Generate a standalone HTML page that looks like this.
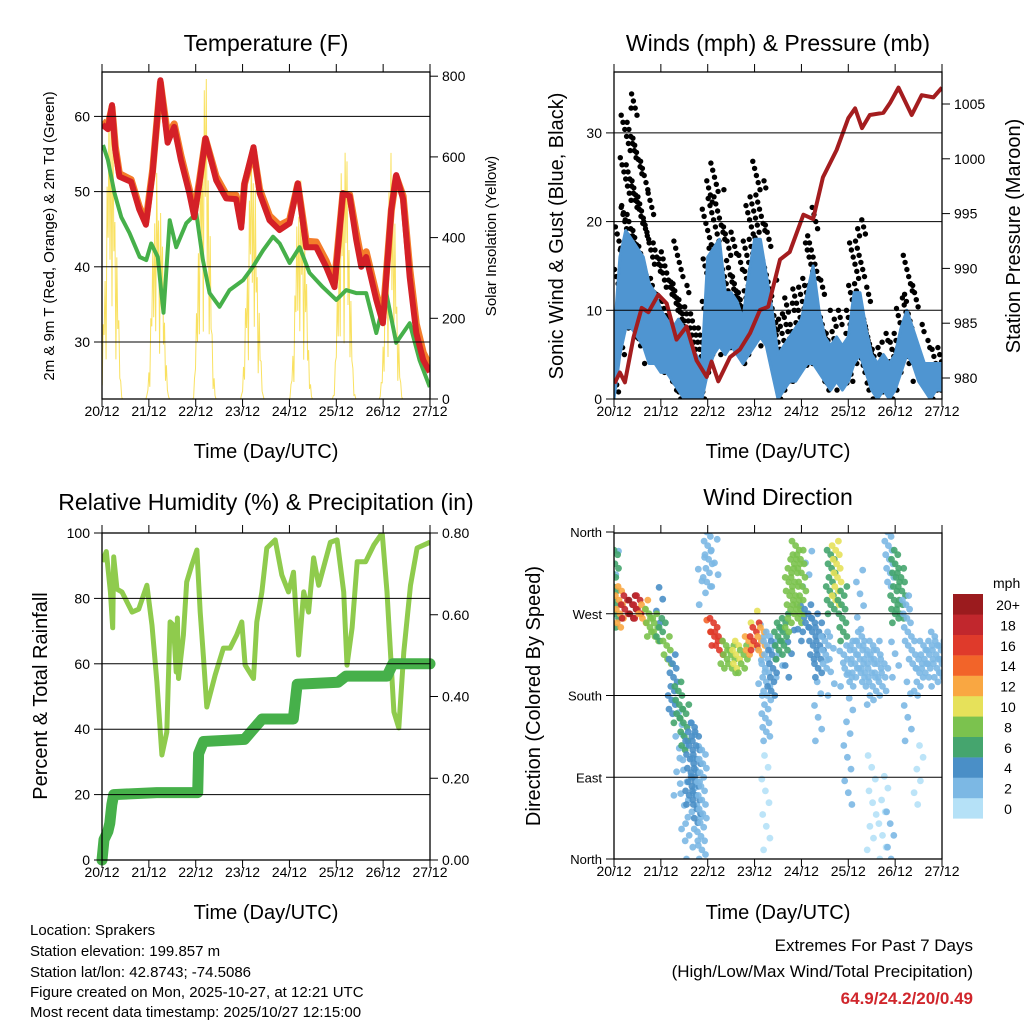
<!DOCTYPE html>
<html><head><meta charset="utf-8">
<style>
html,body{margin:0;padding:0;background:#fff;}
svg{display:block;font-family:"Liberation Sans",Arial,sans-serif;}
</style></head>
<body>
<svg id="chart" width="1024" height="1024" viewBox="0 0 1024 1024" xmlns="http://www.w3.org/2000/svg">
<defs>
<clipPath id="c1"><rect x="102" y="72" width="328" height="327"/></clipPath>
<clipPath id="c2"><rect x="614" y="72" width="328" height="327"/></clipPath>
<clipPath id="c3"><rect x="102" y="533" width="328" height="327"/></clipPath>
<clipPath id="c4"><rect x="614" y="533" width="328" height="326"/></clipPath>
</defs>
<g id="p1"></g>
<g id="p2"></g>
<g id="p3"></g>
<g id="p4"></g>

<text x="266" y="51" font-size="23" text-anchor="middle">Temperature (F)</text>
<text x="778" y="51" font-size="23" text-anchor="middle">Winds (mph) &amp; Pressure (mb)</text>
<text x="266" y="510" font-size="23" text-anchor="middle">Relative Humidity (%) &amp; Precipitation (in)</text>
<text x="778" y="505" font-size="23" text-anchor="middle">Wind Direction</text>

<text x="266" y="458" font-size="20" text-anchor="middle">Time (Day/UTC)</text>
<text x="778" y="458" font-size="20" text-anchor="middle">Time (Day/UTC)</text>
<text x="266" y="919" font-size="20" text-anchor="middle">Time (Day/UTC)</text>
<text x="778" y="919" font-size="20" text-anchor="middle">Time (Day/UTC)</text>

<text transform="translate(54,236) rotate(-90)" font-size="15" text-anchor="middle">2m &amp; 9m T (Red, Orange) &amp; 2m Td (Green)</text>
<text transform="translate(496,236) rotate(-90)" font-size="15" text-anchor="middle">Solar Insolation (Yellow)</text>
<text transform="translate(563,236) rotate(-90)" font-size="20" text-anchor="middle">Sonic Wind &amp; Gust (Blue, Black)</text>
<text transform="translate(1020,236) rotate(-90)" font-size="20" text-anchor="middle">Station Pressure (Maroon)</text>
<text transform="translate(47,696) rotate(-90)" font-size="20" text-anchor="middle">Percent &amp; Total Rainfall</text>
<text transform="translate(540,696) rotate(-90)" font-size="20" text-anchor="middle">Direction (Colored By Speed)</text>

<g font-size="15">
<text x="30" y="935">Location: Sprakers</text>
<text x="30" y="956">Station elevation: 199.857 m</text>
<text x="30" y="977">Station lat/lon: 42.8743; -74.5086</text>
<text x="30" y="997">Figure created on Mon, 2025-10-27, at 12:21 UTC</text>
<text x="30" y="1017">Most recent data timestamp: 2025/10/27 12:15:00</text>
</g>
<g text-anchor="end">
<text x="973" y="951" font-size="17">Extremes For Past 7 Days</text>
<text x="973" y="977" font-size="17">(High/Low/Max Wind/Total Precipitation)</text>
<text x="973" y="1004" font-size="17" font-weight="bold" fill="#d0262c">64.9/24.2/20/0.49</text>
</g>
<g id="cbar"></g>
</svg>
<script>
// ---------- DATA ----------
const dayLabels = ["20/12","21/12","22/12","23/12","24/12","25/12","26/12","27/12"];
// temperature (F), hours from start
const tempHours = [0.2,3,5.1,6.8,8.9,14.9,19.1,22.5,25.9,29.9,33.6,37,40.4,44.7,47.3,49.9,53,58.5,63.6,68.7,71.3,73,77.6,80.7,85.8,90.9,96.1,100.3,104.6,109.7,114.8,119.1,123.4,126.8,130.2,132.8,135.3,140.5,143.9,148.2,150.7,154.2,157.6,161,164.5,167.9];
const temp2m = [58.9,58.3,61.5,55.5,52,51.3,47.6,45.6,52.5,64.8,56.5,58.6,54.2,49.8,46.6,51.1,57.1,51.5,49.1,49,45.2,51.1,55.9,49.8,46.2,44.9,45.8,51.1,42.6,42.6,40,37.3,49.8,49.4,43.6,40,41.3,35.6,32.5,47.6,52.2,49,38.6,31.2,27.6,26];
const temp9m = [59.3,58.8,61.2,56,52.4,51.6,48,46,52.8,64.5,57.5,59,54.8,50.3,47.2,51.4,57,52,49.6,49.5,45.8,51,55.5,50.3,46.8,45.5,46.2,51,43.4,43.3,40.8,38,49.7,49.6,44.6,41,42,36.4,33.3,47.5,52,49.4,39.8,32.4,28.6,26.8];
const dewHours = [0.5,3,6.4,9.9,14.1,19.3,22.7,25.2,28.6,30.4,31.5,34.7,38,43.2,48.3,51.7,55.1,60.2,65.3,72.2,77.3,82.5,87.6,91,96.1,101.2,106.3,113.1,120,125.1,130.2,135.3,140.5,145.6,150.7,157.6,162.6,167.9];
const dewPoint = [56.2,54.2,49.8,46.6,44.5,41.3,40.9,43.1,41.3,36.5,33.9,46.2,42.6,45.8,47.1,40.9,36.5,34.7,36.9,38.2,40,42.2,44,43.1,40.5,42.6,39.2,37.3,35.6,36.9,36.5,36.5,31.2,36.5,29.9,32.5,27.6,24];
const solarPeakHour = [4.6,28.5,52.4,77,101.8,124,148];
const solarPeak = [780,600,850,640,570,690,610];
const solarPattern = [1,0.45,0.85,0.3,0.95,0.55,0.75,0.2,0.9,0.6];
// winds (mph) every 3 h
const windHours = [0,3,6,9,12,15,18,21,24,27,30,33,36,39,42,45,48,51,54,57,60,63,66,69,72,75,78,81,84,87,90,93,96,99,102,105,108,111,114,117,120,123,126,129,132,135,138,141,144,147,150,153,156,159,162,165,168];
const windLo = [0,5,8,8,7,6,4,4,3,3,2,1,0,0,0,0,3,5,6,5,6,5,4,5,6,7,6,3,0,1,2,2,3,4,4,3,2,1,2,1,2,4,5,3,1,0,1,0,1,3,5,4,2,1,0,1,1];
const windHi = [7,16,19,18,17,16,13,12,10,9,8,9,8,6,5,4,16,17,18,12,12,11,9,14,18,18,14,10,5,6,7,8,9,12,15,10,7,6,7,6,7,12,12,8,5,4,5,4,5,8,10,8,6,4,4,4,4];
const gustHi = [9,22,33,35,30,27,24,18,16,17,14,18,13,11,10,8,25,27,24,20,19,17,15,22,27,25,20,14,10,12,11,13,13,18,22,14,10,9,10,8,10,20,21,13,8,7,8,7,8,12,17,13,9,7,6,6,5];
// pressure (mb)
const presHours = [0.2,3,5.6,10,14.2,17.6,22.7,27,32,37.2,42.3,47.5,50,53.4,59.4,64.5,69.7,74.8,79,85,90,97,102,107,114,120,123.5,127,131,138,141.4,145.7,152.5,157.6,163.6,168];
const pressure = [979.5,980.5,979.6,983.7,986.4,986,987.6,986.8,983.5,984.7,981.6,980.1,981.5,979.7,981.9,982.6,984.1,986.2,986.5,990.8,991.5,994.9,994.5,998.3,1000.8,1003.7,1004.6,1002.8,1004,1004.2,1005.1,1006.5,1004,1005.8,1005.6,1006.5];
// relative humidity (%)
const rhHours = [0,2.2,4.3,5.5,6,7.7,10.2,15.4,18.8,23,25.6,28.1,30.7,33.2,34.9,36.6,38,38.6,39.2,41.7,43.4,46,48.6,50.3,52,53.7,58,62.2,65.6,69,71.6,73.3,77.6,79.3,81.9,84.4,88.7,92.1,95.5,98.1,100.7,103.3,105.8,108.4,111,117,120.4,123.8,125.5,128.1,130.7,135,139.2,143.5,146,149.5,152,154.6,158,161.4,168];
const rhValues = [91.2,94.3,82,71,92.7,82.8,82,75.8,76.7,84,71.8,54.4,32.1,39.1,72.8,71.8,57.5,74,55.5,68.8,85,90.2,94.8,75.8,61.8,46.8,56.6,64.8,64.8,68.8,72.8,59.6,55.5,72.8,82,95.4,97.9,87.2,82,88,62.7,82,75.8,92.4,84,97.2,97.9,82,59.6,71,91.2,91.2,96.3,100,82,45.3,40.4,63.6,84,95.4,97.2];
// cumulative precipitation (in)
const precipHours = [0,1,3,4,5,6,28,49,49.5,52,73,82,98,100,121,125,146,149,168];
const precipValues = [0,0.05,0.07,0.09,0.135,0.16,0.165,0.165,0.26,0.29,0.295,0.345,0.345,0.43,0.435,0.45,0.45,0.48,0.48];
// wind direction (deg) clusters, every 3 h ; -1 = none
const dirLo  = [250,255,265,265,265,260,245,240,240,215,160,150,120,60,40,0,300,235,225,210,205,210,205,225,230,225,130,180,220,230,250,270,260,250,220,200,210,270,280,240,200,190,200,190,170,200,180,300,260,265,240,210,180,200,210,190,200];
const dirHi  = [340,300,290,290,290,285,275,270,265,245,225,195,170,150,140,120,360,265,250,240,235,240,235,245,260,255,250,240,260,270,330,350,340,280,270,260,250,340,350,300,240,240,250,240,230,240,220,360,340,320,290,240,220,240,250,240,240];
const dirSpd = [6,12,19,20,18,13,8,8,7,8,4,7,6,4,4,3,2,17,16,9,8,11,9,13,16,12,2,4,6,7,8,9,8,4,4,4,3,6,10,7,3,3,2,3,2,2,3,2,6,7,3,3,2,2,3,2,2];
const dir2Lo  = [300,-1,-1,-1,-1,-1,-1,-1,260,-1,-1,70,20,0,20,280,250,300,-1,-1,-1,-1,-1,-1,260,180,10,-1,200,-1,200,-1,240,300,-1,130,-1,180,-1,190,60,-1,240,-1,10,-1,0,0,200,-1,130,-1,60,-1,-1,-1,-1];
const dir2Hi  = [350,-1,-1,-1,-1,-1,-1,-1,300,-1,-1,180,140,100,150,340,275,360,-1,-1,-1,-1,-1,-1,280,270,120,-1,260,-1,260,-1,280,350,-1,200,-1,250,-1,240,180,-1,320,-1,120,-1,100,60,250,-1,200,-1,130,-1,-1,-1,-1];
const dir2Spd = [3,0,0,0,0,0,0,0,4,0,0,3,2,2,2,3,14,3,0,0,0,0,0,0,10,3,1,0,3,0,4,0,4,2,0,2,0,2,0,3,2,0,2,0,1,0,1,2,2,0,2,0,1,0,0,0,0];
const speedColors = ["#b5e1f7","#7cb8e4","#4a8fc7","#45a56e","#7bc24e","#e6e15a","#f9a742","#f26429","#df3a2b","#c1272d","#9b1b1e"];
const speedLabels = ["0","2","4","6","8","10","12","14","16","18","20+"];

// ---------- HELPERS ----------
const NS = "http://www.w3.org/2000/svg";
function mk(tag, attrs, parent) {
  const e = document.createElementNS(NS, tag);
  for (const k in attrs) e.setAttribute(k, attrs[k]);
  parent.appendChild(e);
  return e;
}
function xT(h, x0, x1) { return x0 + h / 168 * (x1 - x0); }
const p1 = document.getElementById("p1"), p2 = document.getElementById("p2"),
      p3 = document.getElementById("p3"), p4 = document.getElementById("p4");
const yTemp = v => 342 - (v - 30) * 7.52;
const ySolar = v => 399 - v * 0.4035;
const yWind = v => 399 - v * 8.87;
const yPres = p => 378 - (p - 980) * 10.96;
const yRH = v => 860 - v * 3.27;
const yPrecip = p => 860 - p * 408.75;
const yDir = d => 859 - d * 327 / 360;

function frame(g, x0, y0, x1, y1, gridYs) {
  for (const gy of gridYs) {
    const l = mk("line", {x1: x0, x2: x1, y1: gy, y2: gy, stroke: "#000", "stroke-width": 1}, g);
    
    
  }
  const r = mk("rect", {x: x0, y: y0, width: x1 - x0, height: y1 - y0, fill: "none", stroke: "#000", "stroke-width": 1.3}, g);
  
  
  for (let i = 0; i < 8; i++) {
    const x = xT(i * 24, x0, x1);
    mk("line", {x1: x, x2: x, y1: y1, y2: y1 + 8, stroke: "#000", "stroke-width": 1}, g);
    mk("line", {x1: x, x2: x, y1: y0, y2: y0 - 8, stroke: "#000", "stroke-width": 1}, g);
    const t = mk("text", {x: x, y: y1 + 17, "font-size": 14, "text-anchor": "middle"}, g);
    
    
    t.textContent = dayLabels[i];
  }
}
function yTicks(g, xEdge, side, vals, yf, fmt, fs) {
  for (const v of vals) {
    const y = yf(v);
    const dx = side === "left" ? -8 : 8;
    mk("line", {x1: xEdge, x2: xEdge + dx, y1: y, y2: y, stroke: "#000", "stroke-width": 1}, g);
    const t = mk("text", {x: xEdge + (side === "left" ? -12 : 12), y: y + 5, "font-size": fs || 14, "text-anchor": side === "left" ? "end" : "start"}, g);
    
    
    t.textContent = fmt(v);
  }
}
function pathOf(hs, vs, xf, yf) {
  return hs.map((h, i) => (i ? "L" : "M") + xf(h).toFixed(1) + "," + yf(vs[i]).toFixed(1)).join("");
}

// ---------- PANEL 1: TEMPERATURE ----------
(function () {
  const x = h => xT(h, 102, 430);
  const cg = mk("g", {"clip-path": "url(#c1)"}, p1);
  let d = "";
  solarPeakHour.forEach((ph, j) => {
    let k = 0;
    for (let h = ph - 6; h <= ph + 6; h += 0.5, k++) {
      const w = Math.cos((h - ph) / 6 * Math.PI / 2);
      const v = Math.max(0, solarPeak[j] * w * w * solarPattern[(k + j * 3) % solarPattern.length]);
      d += (k ? "L" : "M") + x(h).toFixed(1) + "," + ySolar(v).toFixed(1);
    }
  });
  const sol = mk("path", {d: d, fill: "none", stroke: "#f7d93a", "stroke-width": 1, opacity: 0.8}, cg);
  
  
  const dp = mk("path", {d: pathOf(dewHours, dewPoint, x, yTemp), fill: "none", stroke: "#46b04a", "stroke-width": 4, "stroke-linejoin": "round"}, cg);
  
  
  const t9 = mk("path", {d: pathOf(tempHours, temp9m, x, yTemp), fill: "none", stroke: "#f47d2a", "stroke-width": 7, "stroke-linejoin": "round"}, cg);
  
  
  const t2 = mk("path", {d: pathOf(tempHours, temp2m, x, yTemp), fill: "none", stroke: "#d42027", "stroke-width": 6, "stroke-linejoin": "round"}, cg);
  
  
  frame(p1, 102, 72, 430, 399, [30, 40, 50, 60].map(yTemp));
  yTicks(p1, 102, "left", [30, 40, 50, 60], yTemp, v => v);
  yTicks(p1, 430, "right", [0, 200, 400, 600, 800], ySolar, v => v);
})();

// ---------- PANEL 2: WINDS ----------
(function () {
  const x = h => xT(h, 614, 942);
  const cg = mk("g", {"clip-path": "url(#c2)"}, p2);
  const gust = mk("g", {fill: "#000"}, cg);
  
  
  windHours.forEach((h, i) => {
    let k = 0;
    for (let v = windLo[i]; v <= gustHi[i]; v += 0.8, k++) {
      const off = ((k * 37 + i * 11) % 13 - 6) * 0.9;
      mk("circle", {cx: (x(h) + off).toFixed(1), cy: yWind(v).toFixed(1), r: 2.7}, gust);
    }
  });
  let top = windHours.map((h, i) => (i ? "L" : "M") + x(h).toFixed(1) + "," + yWind(windHi[i]).toFixed(1)).join("");
  let bot = windHours.slice().reverse().map((h, j) => { const i = windHours.length - 1 - j; return "L" + x(h).toFixed(1) + "," + yWind(windLo[i]).toFixed(1); }).join("");
  const wb = mk("path", {d: top + bot + "Z", fill: "#4f95d1", stroke: "#4f95d1", "stroke-width": 3, "stroke-linejoin": "round"}, cg);
  
  
  const pr = mk("path", {d: pathOf(presHours, pressure, x, yPres), fill: "none", stroke: "#a41d1f", "stroke-width": 4, "stroke-linejoin": "round"}, cg);
  
  
  frame(p2, 614, 72, 942, 399, [10, 20, 30].map(yWind));
  yTicks(p2, 614, "left", [0, 10, 20, 30], yWind, v => v);
  yTicks(p2, 942, "right", [980, 985, 990, 995, 1000, 1005], yPres, v => v);
})();

// ---------- PANEL 3: RH & PRECIP ----------
(function () {
  const x = h => xT(h, 102, 430);
  const cg = mk("g", {"clip-path": "url(#c3)"}, p3);
  const rh = mk("path", {d: pathOf(rhHours, rhValues, x, yRH), fill: "none", stroke: "#8fcb4d", "stroke-width": 5, "stroke-linejoin": "round"}, cg);
  
  
  const pc = mk("path", {d: pathOf(precipHours, precipValues, x, yPrecip), fill: "none", stroke: "#46b04a", "stroke-width": 11, "stroke-linejoin": "round", "stroke-linecap": "round"}, p3);
  
  
  frame(p3, 102, 533, 430, 860, [20, 40, 60, 80].map(yRH));
  yTicks(p3, 102, "left", [0, 20, 40, 60, 80, 100], yRH, v => v);
  yTicks(p3, 430, "right", [0, 0.2, 0.4, 0.6, 0.8], yPrecip, v => v.toFixed(2));
})();

// ---------- PANEL 4: WIND DIRECTION ----------
(function () {
  const x = h => xT(h, 614, 942);
  const cg = mk("g", {"clip-path": "url(#c4)"}, p4);
  function cluster(lo, hi, spd, step, name) {
    windHours.forEach((h, i) => {
      if (lo[i] < 0) return;
      const col = speedColors[Math.min(10, Math.floor(spd[i] / 2))];
      let k = 0;
      for (let dg = lo[i]; dg <= hi[i]; dg += step, k++) {
        const off = ((k * 29 + i * 17) % 11 - 5) * 0.9;
        const c = mk("circle", {cx: (x(h) + off).toFixed(1), cy: yDir(dg).toFixed(1), r: 3.4, fill: col, opacity: 0.9}, cg);
        
        
      }
    });
  }
  cluster(dir2Lo, dir2Hi, dir2Spd, 13, 'direction-point-sparse');
  cluster(dirLo, dirHi, dirSpd, 5, 'direction-point');
  frame(p4, 614, 533, 942, 859, [90, 180, 270].map(yDir));
  const names = ["North", "East", "South", "West", "North"];
  yTicks(p4, 614, "left", [0, 90, 180, 270, 360], yDir, v => names[v / 90], 13);
  const cb = document.getElementById("cbar");
  const t = mk("text", {x: 993, y: 588, "font-size": 14}, cb);
  
  
  t.textContent = "mph";
  for (let i = 0; i < 11; i++) {
    const y = 594 + (10 - i) * 20.4;
    const r = mk("rect", {x: 953, y: y, width: 30, height: 20.6, fill: speedColors[i]}, cb);
    
    
    const l = mk("text", {x: 1008, y: y + 16, "font-size": 14, "text-anchor": "middle"}, cb);
    
    
    l.textContent = speedLabels[i];
  }
})();
</script>
</body></html>
